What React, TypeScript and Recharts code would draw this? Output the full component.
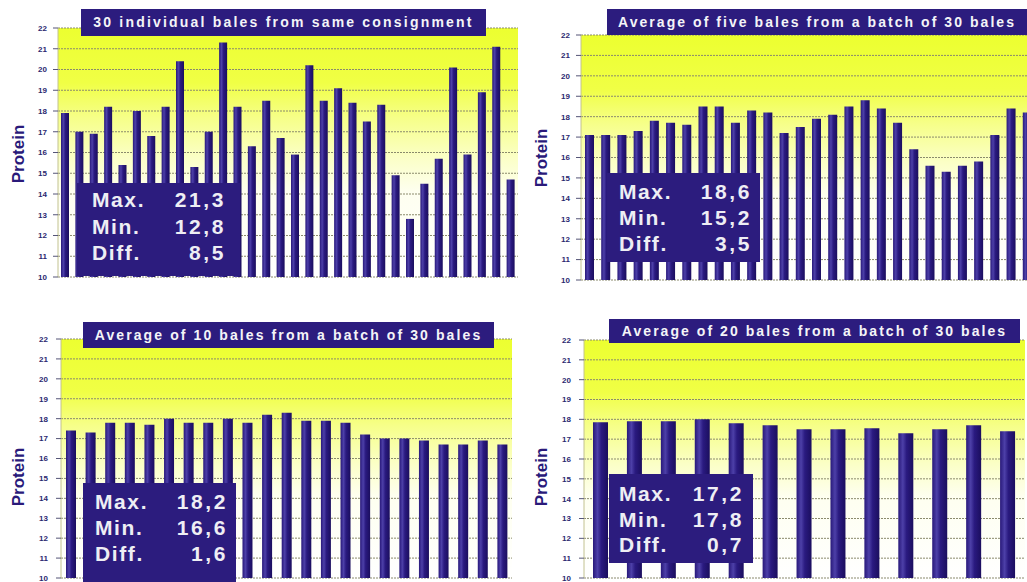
import React from 'react';
import { BarChart, Bar, XAxis, YAxis, CartesianGrid } from 'recharts';

// protein values
const bales30 = [17.9, 17.0, 16.9, 18.2, 15.4, 18.0, 16.8, 18.2, 20.4, 15.3, 17.0, 21.3, 18.2, 16.3, 18.5, 16.7, 15.9, 20.2, 18.5, 19.1, 18.4, 17.5, 18.3, 14.9, 12.8, 14.5, 15.7, 20.1, 15.9, 18.9, 21.1, 14.7];
const avg5 = [17.1, 17.1, 17.1, 17.3, 17.8, 17.7, 17.6, 18.5, 18.5, 17.7, 18.3, 18.2, 17.2, 17.5, 17.9, 18.1, 18.5, 18.8, 18.4, 17.7, 16.4, 15.6, 15.3, 15.6, 15.8, 17.1, 18.4, 18.2];
const avg10 = [17.4, 17.3, 17.8, 17.8, 17.7, 18.0, 17.8, 17.8, 18.0, 17.8, 18.2, 18.3, 17.9, 17.9, 17.8, 17.2, 17.0, 17.0, 16.9, 16.7, 16.7, 16.9, 16.7];
const avg20 = [17.85, 17.9, 17.9, 18.0, 17.8, 17.7, 17.5, 17.5, 17.55, 17.3, 17.5, 17.7, 17.4];

const yTicks = [10, 11, 12, 13, 14, 15, 16, 17, 18, 19, 20, 21, 22];

const titles = [
  '30 individual bales from same consignment',
  'Average of five bales from a batch of 30 bales',
  'Average of 10 bales from a batch of 30 bales',
  'Average of 20 bales from a batch of 30 bales',
];
const statLabels = ['Max.', 'Min.', 'Diff.'];
const statValues = [
  ['21,3', '12,8', '8,5'],
  ['18,6', '15,2', '3,5'],
  ['18,2', '16,6', '1,6'],
  ['17,2', '17,8', '0,7'],
];

const NAVY = '#2c1c7e';
const FONT = '"Liberation Sans", Arial, sans-serif';

const panels = [
  {
    values: bales30, left: 0, top: 0, width: 518, height: 290, mt: 28, mb: 13, yw: 58, barSize: 8, tm: 6,
    title: { left: 81, top: 9, width: 405, height: 27, ls: 2.2 },
    stats: { left: 77, top: 183, width: 163, height: 93, pt: 4, pl: 15, pr: 14, lh: 26.5 },
    label: { x: 18, y: 154 },
  },
  {
    values: avg5, left: 510, top: 0, width: 525, height: 290, mt: 35, mb: 10, yw: 71, barSize: 9, tm: 6,
    title: { left: 607, top: 9, width: 420, height: 26, ls: 2.05 },
    stats: { left: 607, top: 173, width: 153, height: 89, pt: 6, pl: 12, pr: 8, lh: 26 },
    label: { x: 541, y: 158 },
  },
  {
    values: avg10, left: 0, top: 300, width: 512, height: 290, mt: 39, mb: 12, yw: 61, barSize: 10, tm: 8,
    title: { left: 83, top: 322, width: 411, height: 26, ls: 2.1 },
    stats: { left: 83, top: 483, width: 153, height: 110, pt: 6, pl: 12, pr: 8, lh: 26 },
    label: { x: 18, y: 477 },
  },
  {
    values: avg20, left: 510, top: 300, width: 515, height: 290, mt: 40, mb: 12, yw: 74, barSize: 15, tm: 8,
    title: { left: 609, top: 319, width: 411, height: 24, ls: 2.05 },
    stats: { left: 609, top: 474, width: 144, height: 89, pt: 7, pl: 10, pr: 9, lh: 25.5 },
    label: { x: 541, y: 477 },
  },
];

const Panel = ({ p, idx }: any) => {
  const data = p.values.map((v: number, i: number) => ({ i: i + 1, v }));
  return (
    <>
      <div style={{ position: 'absolute', left: p.left, top: p.top }}>
        <BarChart width={p.width} height={p.height} data={data} margin={{ top: p.mt, right: 0, bottom: p.mb, left: 0 }}>
          <defs>
            <linearGradient id={`bg${idx}`} x1="0" y1="0" x2="0" y2="1">
              <stop offset="0%" stopColor="#ecff30" />
              <stop offset="22%" stopColor="#f0ff45" />
              <stop offset="36%" stopColor="#f6ff88" />
              <stop offset="52%" stopColor="#fbffc6" />
              <stop offset="66%" stopColor="#fefff0" />
              <stop offset="100%" stopColor="#ffffff" />
            </linearGradient>
            <linearGradient id={`bar${idx}`} x1="0" y1="0" x2="1" y2="0">
              <stop offset="0%" stopColor="#28187a" />
              <stop offset="30%" stopColor="#4d40a8" />
              <stop offset="55%" stopColor="#2a1a80" />
              <stop offset="100%" stopColor="#1b0e5e" />
            </linearGradient>
          </defs>
          <CartesianGrid vertical={false} stroke="#8a8a6c" strokeDasharray="2 1" fill={`url(#bg${idx})`} fillOpacity={1} />
          <XAxis dataKey="i" hide />
          <YAxis
            domain={[10, 22]}
            ticks={yTicks}
            interval={0}
            allowDataOverflow
            width={p.yw}
            tickSize={5}
            tickMargin={p.tm}
            tick={{ fontSize: 8, fontWeight: 700, fill: '#2b2870', fontFamily: FONT }}
            axisLine={{ stroke: '#c2c290' }}
            tickLine={{ stroke: '#555577' }}
          />
          <Bar dataKey="v" barSize={p.barSize} fill={`url(#bar${idx})`} isAnimationActive={false} />
        </BarChart>
      </div>
      <div
        style={{
          position: 'absolute', left: p.title.left, top: p.title.top, width: p.title.width, height: p.title.height,
          background: NAVY, color: '#f4f4f8', fontFamily: FONT, fontWeight: 700, fontSize: 14,
          letterSpacing: p.title.ls, lineHeight: `${p.title.height}px`, textAlign: 'center', whiteSpace: 'nowrap',
        }}
      >
        {titles[idx]}
      </div>
      <div
        style={{
          position: 'absolute', left: p.stats.left, top: p.stats.top, width: p.stats.width, height: p.stats.height,
          background: NAVY, color: '#eeeef4', fontFamily: FONT, fontWeight: 700, fontSize: 21, letterSpacing: 1.6,
          boxSizing: 'border-box', paddingTop: p.stats.pt, paddingLeft: p.stats.pl, paddingRight: p.stats.pr,
          lineHeight: `${p.stats.lh}px`,
        }}
      >
        {statLabels.map((l, k) => (
          <div key={l} style={{ display: 'flex', justifyContent: 'space-between' }}>
            <span>{l}</span>
            <span style={{ letterSpacing: 2.6 }}>{statValues[idx][k]}</span>
          </div>
        ))}
      </div>
    </>
  );
};

export default function App() {
  return (
    <div style={{ position: 'fixed', left: 0, top: 0, width: 1027, height: 582, overflow: 'hidden', background: '#fff' }}>
      {panels.map((p, idx) => (
        <Panel key={idx} p={p} idx={idx} />
      ))}
      <svg width={1027} height={582} style={{ position: 'absolute', left: 0, top: 0, pointerEvents: 'none' }}>
        {panels.map((p, idx) => (
          <text
            key={idx}
            x={p.label.x}
            y={p.label.y}
            transform={`rotate(-90, ${p.label.x}, ${p.label.y})`}
            textAnchor="middle"
            dominantBaseline="central"
            fontFamily={FONT}
            fontWeight={700}
            fontSize={17}
            fill="#2a1a7a"
          >
            Protein
          </text>
        ))}
      </svg>
    </div>
  );
}
